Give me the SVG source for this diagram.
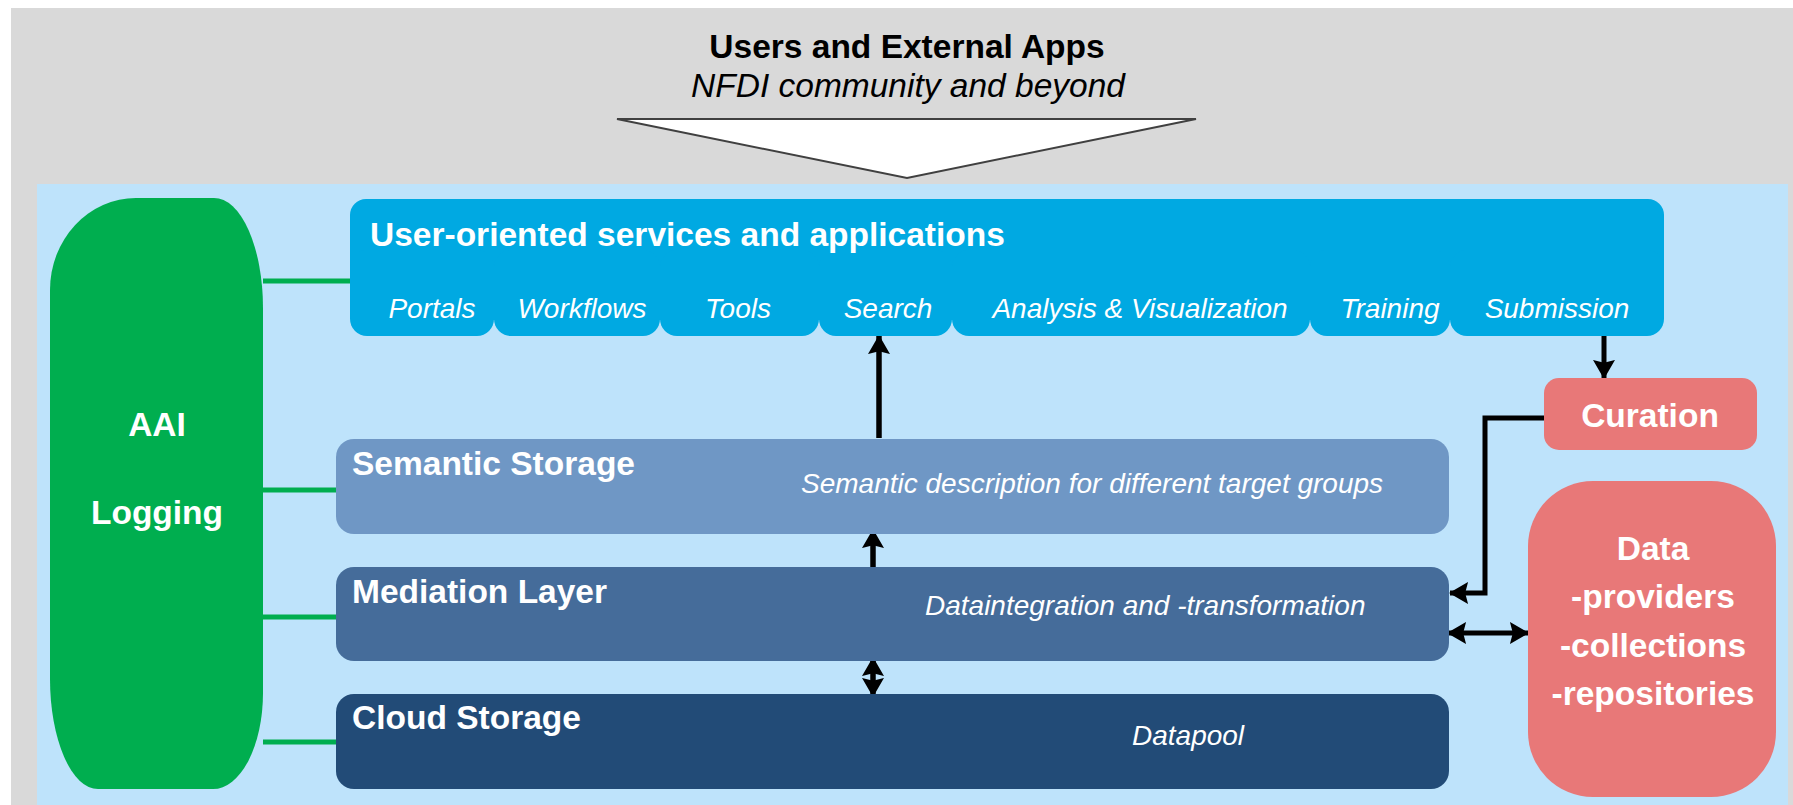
<svg xmlns="http://www.w3.org/2000/svg" width="1793" height="805" viewBox="0 0 1793 805">
<defs>
<style>
.b{font-family:"Liberation Sans",Arial,sans-serif;font-weight:bold;font-size:33.5px;fill:#fff}
.i{font-family:"Liberation Sans",Arial,sans-serif;font-style:italic;font-size:28px;fill:#fff}
.ln{stroke:#000;stroke-width:5;fill:none}
.gl{stroke:#00AE4F;stroke-width:5;fill:none}
</style>
<marker id="ah" viewBox="0 0 10 10" refX="9.5" refY="5" markerWidth="19" markerHeight="22" preserveAspectRatio="none" markerUnits="userSpaceOnUse" orient="auto-start-reverse">
<path d="M0,0 L10,5 L0,10 L1.5,5 z" fill="#000"/>
</marker>
</defs>
<rect x="0" y="0" width="1793" height="805" fill="#fff"/>
<rect x="11" y="8" width="1782" height="797" fill="#D9D9D9"/>
<rect x="37" y="184" width="1751" height="621" fill="#BEE3FB"/>
<g id="header">
<text x="907" y="58" text-anchor="middle" class="b" style="fill:#000">Users and External Apps</text>
<text x="908" y="97" text-anchor="middle" class="i" style="fill:#000;font-size:33.5px">NFDI community and beyond</text>
<path d="M617,119 L1196,119 L907,178 Z" fill="#fff" stroke="#404040" stroke-width="2"/>
</g>
<g id="connectors">
<path class="gl" d="M263,281 L350,281"/>
<path class="gl" d="M263,490 L336,490"/>
<path class="gl" d="M263,617 L336,617"/>
<path class="gl" d="M263,742 L336,742"/>
<path class="ln" style="stroke-width:5.5" d="M879,438 L879,336" marker-end="url(#ah)"/>
<path class="ln" style="stroke-width:5.5" d="M873,567 L873,530" marker-end="url(#ah)"/>
<path class="ln" style="stroke-width:5.5" d="M873,658 L873,696" marker-start="url(#ah)" marker-end="url(#ah)"/>
<path class="ln" d="M1604,336 L1604,378" marker-end="url(#ah)"/>
<path class="ln" d="M1544,418 L1485,418 L1485,593 L1450,593" marker-end="url(#ah)"/>
<path class="ln" d="M1448,633 L1528,633" marker-start="url(#ah)" marker-end="url(#ah)"/>
</g>
<g id="aai">
<path d="M136,198 L214,198 A49,110 0 0 1 263,308 L263,693 A50,96 0 0 1 213,789 L98,789 A48,110 0 0 1 50,679 L50,290 A86,92 0 0 1 136,198 Z" fill="#00AE4F"/>
<text x="157" y="436" text-anchor="middle" class="b">AAI</text>
<text x="157" y="524" text-anchor="middle" class="b">Logging</text>
</g>
<g id="user-services" fill="#00A9E2">
<rect x="350" y="199" width="1314" height="121" rx="16"/>
<rect x="350" y="250" width="144" height="86" rx="17"/>
<rect x="494" y="250" width="166" height="86" rx="17"/>
<rect x="660" y="250" width="159" height="86" rx="17"/>
<rect x="819" y="250" width="133" height="86" rx="17"/>
<rect x="952" y="250" width="358" height="86" rx="17"/>
<rect x="1310" y="250" width="140" height="86" rx="17"/>
<rect x="1450" y="250" width="214" height="86" rx="17"/>
<text x="370" y="246" class="b">User-oriented services and applications</text>
<text x="432" y="318" text-anchor="middle" class="i">Portals</text>
<text x="582" y="318" text-anchor="middle" class="i">Workflows</text>
<text x="738" y="318" text-anchor="middle" class="i">Tools</text>
<text x="888" y="318" text-anchor="middle" class="i">Search</text>
<text x="1140" y="318" text-anchor="middle" class="i">Analysis &amp; Visualization</text>
<text x="1390" y="318" text-anchor="middle" class="i">Training</text>
<text x="1557" y="318" text-anchor="middle" class="i">Submission</text>
</g>
<g id="semantic-storage">
<rect x="336" y="439" width="1113" height="95" rx="18" fill="#6F97C5"/>
<text x="352" y="475" class="b">Semantic Storage</text>
<text x="801" y="493" class="i">Semantic description for different target groups</text>
</g>
<g id="mediation-layer">
<rect x="336" y="567" width="1113" height="94" rx="18" fill="#456C9A"/>
<text x="352" y="603" class="b">Mediation Layer</text>
<text x="925" y="615" class="i">Dataintegration and -transformation</text>
</g>
<g id="cloud-storage">
<rect x="336" y="694" width="1113" height="95" rx="18" fill="#224B77"/>
<text x="352" y="729" class="b">Cloud Storage</text>
<text x="1132" y="745" class="i">Datapool</text>
</g>
<g id="curation">
<rect x="1544" y="378" width="213" height="72" rx="15" fill="#E87878"/>
<text x="1650" y="427" text-anchor="middle" class="b">Curation</text>
</g>
<g id="data">
<rect x="1528" y="481" width="248" height="316" rx="65" fill="#E87878"/>
<text x="1653" y="560" text-anchor="middle" class="b">Data</text>
<text x="1653" y="608" text-anchor="middle" class="b">-providers</text>
<text x="1653" y="657" text-anchor="middle" class="b">-collections</text>
<text x="1653" y="705" text-anchor="middle" class="b">-repositories</text>
</g>
</svg>
